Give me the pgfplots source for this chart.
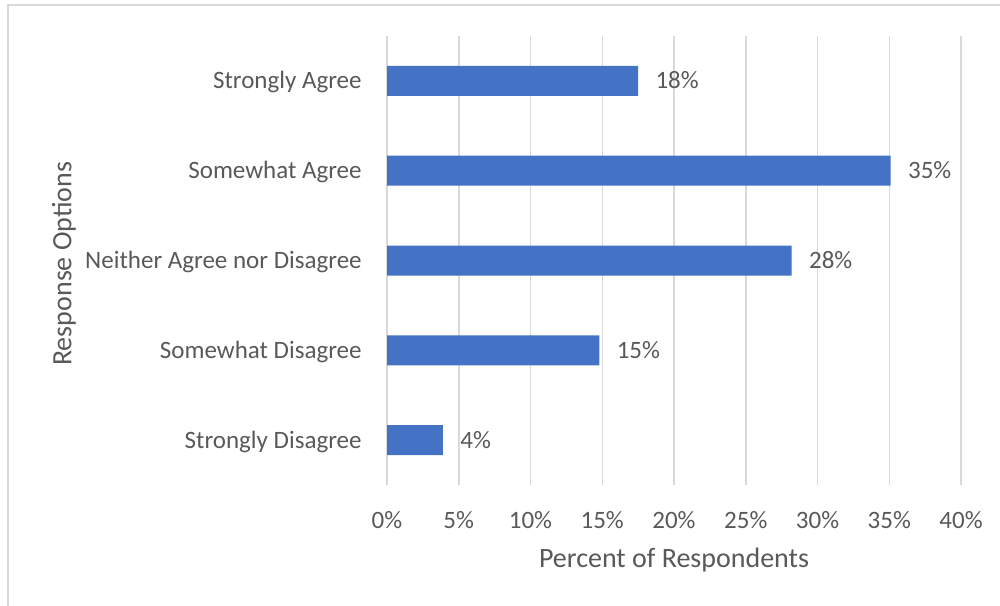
\documentclass[border=0pt]{standalone}
\usepackage{fontspec}
\setmainfont{Carlito}
\usepackage{pgfplots}
\pgfplotsset{compat=1.18}
\definecolor{barblue}{HTML}{4472C4}
\definecolor{txtgray}{HTML}{595959}
\definecolor{gridgray}{HTML}{D9D9D9}
\begin{document}
\begin{tikzpicture}[font=\fontsize{12.5}{15}\selectfont]
\useasboundingbox (0,0) rectangle (500pt,302.5pt);
\draw[gridgray, line width=0.7pt] (4pt,-10pt) -- (4pt,300pt) -- (510pt,300pt);
\begin{axis}[
  at={(193.5pt,60pt)}, anchor=south west,
  scale only axis, width=287pt, height=224.5pt,
  xbar, bar width=15pt,
  xmin=0, xmax=40, ymin=-0.5, ymax=4.5, y dir=reverse,
  xtick={0,5,...,40},
  xticklabels={0\%,5\%,10\%,15\%,20\%,25\%,30\%,35\%,40\%},
  ytick={0,1,2,3,4},
  yticklabels={Strongly Agree,Somewhat Agree,Neither Agree nor Disagree,Somewhat Disagree,Strongly Disagree},
  axis line style={draw=none}, major tick length=0pt,
  xmajorgrids, major grid style={gridgray, line width=0.75pt},
  /pgf/number format/assume math mode=true,
  xticklabel style={anchor=base, inner sep=0pt, yshift=-21.8pt, text=txtgray},
  yticklabel style={anchor=east, inner sep=0pt, xshift=-12.5pt, text=txtgray, text height=10pt, text depth=2pt},
  xlabel={Percent of Respondents},
  xlabel style={at={(axis description cs:0.5,0)}, anchor=base, inner sep=0pt, yshift=-41pt, text=txtgray, font=\fontsize{14}{16}\selectfont},
  ylabel={Response Options},
  ylabel style={at={(axis description cs:-0.5627,0.493)}, anchor=center, inner sep=0pt, text=txtgray, font=\fontsize{14}{16}\selectfont},
]
\addplot[fill=barblue, draw=none, nodes near coords, point meta=explicit symbolic,
  nodes near coords style={anchor=west, inner sep=0pt, xshift=8.5pt, text=txtgray, text height=10pt, text depth=2pt}]
  coordinates {(17.5,0) [18\%] (35.1,1) [35\%] (28.2,2) [28\%] (14.8,3) [15\%] (3.9,4) [4\%]};
\end{axis}
\end{tikzpicture}
\end{document}
